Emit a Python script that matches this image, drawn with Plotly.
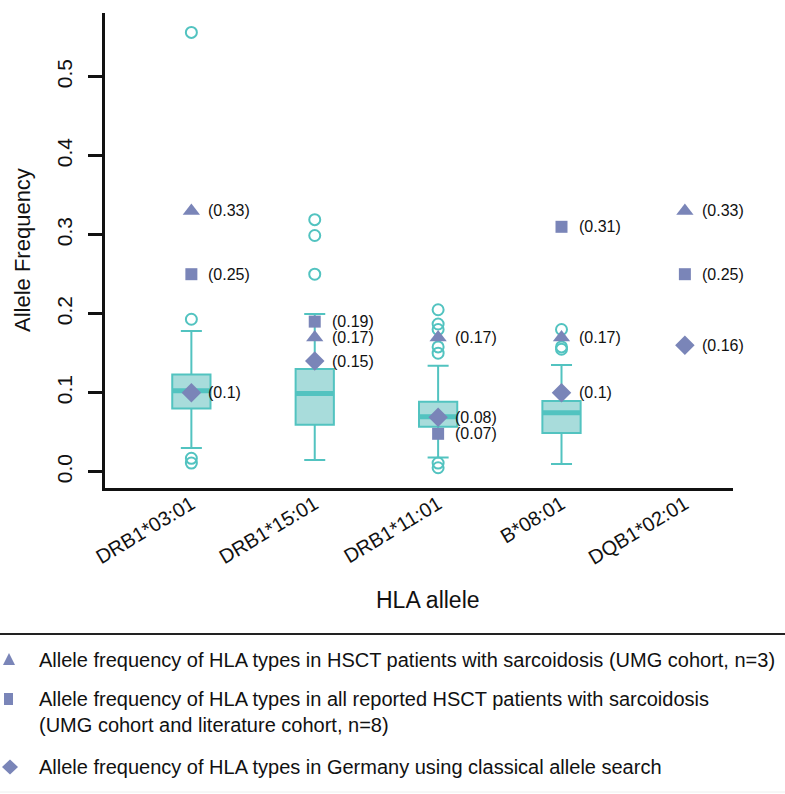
import plotly.graph_objects as go

# ---------------- data ----------------
categories = ["DRB1*03:01", "DRB1*15:01", "DRB1*11:01", "B*08:01", "DQB1*02:01"]
cat_pos = [1, 2, 3, 4, 5]

# box statistics (reference population), first four alleles
box_pos = [1, 2, 3, 4]
q1 = [0.080, 0.0595, 0.057, 0.049]
median = [0.1025, 0.099, 0.0696, 0.0747]
q3 = [0.123, 0.130, 0.0886, 0.0895]
lower_fence = [0.030, 0.0148, 0.018, 0.0097]
upper_fence = [0.178, 0.1996, 0.134, 0.135]

outliers_0301 = [0.556, 0.193, 0.017, 0.011]
outliers_1501 = [0.319, 0.299, 0.250]
outliers_1101 = [0.205, 0.187, 0.180, 0.158, 0.150, 0.011, 0.005]
outliers_0801 = [0.180, 0.158, 0.155]

# series markers
umg_values = [0.33, 0.17, 0.17, 0.17, 0.33]
umg_labels = ["(0.33)", "(0.17)", "(0.17)", "(0.17)", "(0.33)"]
all_values = [0.25, 0.19, 0.048, 0.31, 0.25]
all_labels = ["(0.25)", "(0.19)", "(0.07)", "(0.31)", "(0.25)"]
ger_values = [0.10, 0.14, 0.069, 0.10, 0.16]
ger_labels = ["(0.1)", "(0.15)", "(0.08)", "(0.1)", "(0.16)"]

y_ticks = [0.0, 0.1, 0.2, 0.3, 0.4, 0.5]
y_ticktext = ["0.0", "0.1", "0.2", "0.3", "0.4", "0.5"]

legend_texts = [
    "Allele frequency of HLA types in HSCT patients with sarcoidosis (UMG cohort, n=3)",
    "Allele frequency of HLA types in all reported HSCT patients with sarcoidosis"
    "<br>(UMG cohort and literature cohort, n=8)",
    "Allele frequency of HLA types in Germany using classical allele search",
]

# ---------------- style ----------------
W, H = 785, 794
FONT = "Liberation Sans, Arial, sans-serif"
TEAL = "#52c3c0"
TEAL_FILL = "#a8dcdb"
SLATE = "#7a85b8"
INK = "#111111"
BOX_W = 0.31


def px(x):
    return x / W


def py(y):
    return 1 - y / H


fig = go.Figure()

fig.add_trace(go.Box(
    x=box_pos, q1=q1, median=median, q3=q3,
    lowerfence=lower_fence, upperfence=upper_fence,
    boxpoints=False, width=BOX_W, whiskerwidth=0.55,
    line=dict(color=TEAL, width=2), fillcolor=TEAL_FILL,
    showlegend=False, hoverinfo="skip",
))

# thick median lines
mx, my = [], []
for p, m in zip(box_pos, median):
    mx += [p - BOX_W / 2, p + BOX_W / 2, None]
    my += [m, m, None]
fig.add_trace(go.Scatter(x=mx, y=my, mode="lines",
                         line=dict(color=TEAL, width=5),
                         showlegend=False, hoverinfo="skip"))

# outliers
ox, oy = [], []
for p, vals in zip(box_pos, [outliers_0301, outliers_1501, outliers_1101, outliers_0801]):
    ox += [p] * len(vals)
    oy += vals
fig.add_trace(go.Scatter(x=ox, y=oy, mode="markers",
                         marker=dict(symbol="circle-open", size=11,
                                     color=TEAL, line=dict(width=2, color=TEAL)),
                         showlegend=False, hoverinfo="skip"))

series = [
    (umg_values, umg_labels, "triangle-up", 15),
    (all_values, all_labels, "square", 12),
    (ger_values, ger_labels, "diamond", 15),
]
annotations = []
for vals, labs, sym, sz in series:
    fig.add_trace(go.Scatter(
        x=cat_pos, y=vals, mode="markers",
        marker=dict(symbol=sym, size=sz, color=SLATE, line=dict(width=0)),
        showlegend=False, hoverinfo="skip", cliponaxis=False,
    ))
    for xv, yv, t in zip(cat_pos, vals, labs):
        annotations.append(dict(
            x=xv, y=yv, xref="x", yref="y", text=t, showarrow=False,
            xanchor="left", yanchor="middle", xshift=15,
            font=dict(family=FONT, size=16, color=INK),
        ))

# axis titles
annotations.append(dict(
    x=px(23), y=py(250), xref="paper", yref="paper", text="Allele Frequency",
    textangle=-90, showarrow=False, xanchor="center", yanchor="middle",
    font=dict(family=FONT, size=22, color=INK)))
annotations.append(dict(
    x=px(428), y=py(600), xref="paper", yref="paper", text="HLA allele",
    showarrow=False, xanchor="center", yanchor="middle",
    font=dict(family=FONT, size=23, color=INK)))

# legend block
legend_rows = [660, 711.5, 767]
for t, yy in zip(legend_texts, legend_rows):
    annotations.append(dict(
        x=px(37), y=py(yy), xref="paper", yref="paper", text=t,
        showarrow=False, xanchor="left", yanchor="middle", align="left",
        font=dict(family=FONT, size=20, color=INK)))

shapes = [
    dict(type="line", xref="paper", yref="paper", x0=0, x1=1,
         y0=py(634), y1=py(634), line=dict(color="#222", width=2)),
    dict(type="line", xref="paper", yref="paper", x0=0, x1=1,
         y0=py(792), y1=py(792), line=dict(color="#eeeeee", width=1)),
    # legend symbols
    dict(type="path", xref="paper", yref="paper",
         path=f"M {px(3)} {py(665)} L {px(15)} {py(665)} L {px(9)} {py(653)} Z",
         fillcolor=SLATE, line=dict(width=0)),
    dict(type="rect", xref="paper", yref="paper",
         x0=px(4), x1=px(13), y0=py(705), y1=py(693),
         fillcolor=SLATE, line=dict(width=0)),
    dict(type="path", xref="paper", yref="paper",
         path=(f"M {px(2)} {py(767)} L {px(10)} {py(759.5)} L {px(18)} {py(767)} "
               f"L {px(10)} {py(774.5)} Z"),
         fillcolor=SLATE, line=dict(width=0)),
]

fig.update_layout(
    width=W, height=H,
    margin=dict(l=0, r=0, t=0, b=0, autoexpand=False),
    paper_bgcolor="white", plot_bgcolor="white",
    font=dict(family=FONT, color=INK),
    showlegend=False,
    xaxis=dict(
        domain=[px(105), px(733)], range=[0.3, 5.39],
        tickvals=cat_pos, ticktext=categories, tickangle=-31,
        tickfont=dict(size=20, color=INK),
        showline=True, linecolor=INK, linewidth=2.5,
        ticks="", showgrid=False, zeroline=False,
        ticklabelstandoff=-6,
        automargin=False,
    ),
    yaxis=dict(
        domain=[py(488), py(13)], range=[-0.0206, 0.5806],
        tickvals=y_ticks, ticktext=y_ticktext, tickangle=-90,
        tickfont=dict(size=21, color=INK),
        showline=True, linecolor=INK, linewidth=2.5,
        ticks="outside", ticklen=14, tickwidth=2.5, tickcolor=INK,
        ticklabelstandoff=8,
        showgrid=False, zeroline=False,
        automargin=False,
    ),
    annotations=annotations,
    shapes=shapes,
)

fig.write_html("out.html", config={"displayModeBar": False},
               post_script="document.body.style.margin='0px';")
